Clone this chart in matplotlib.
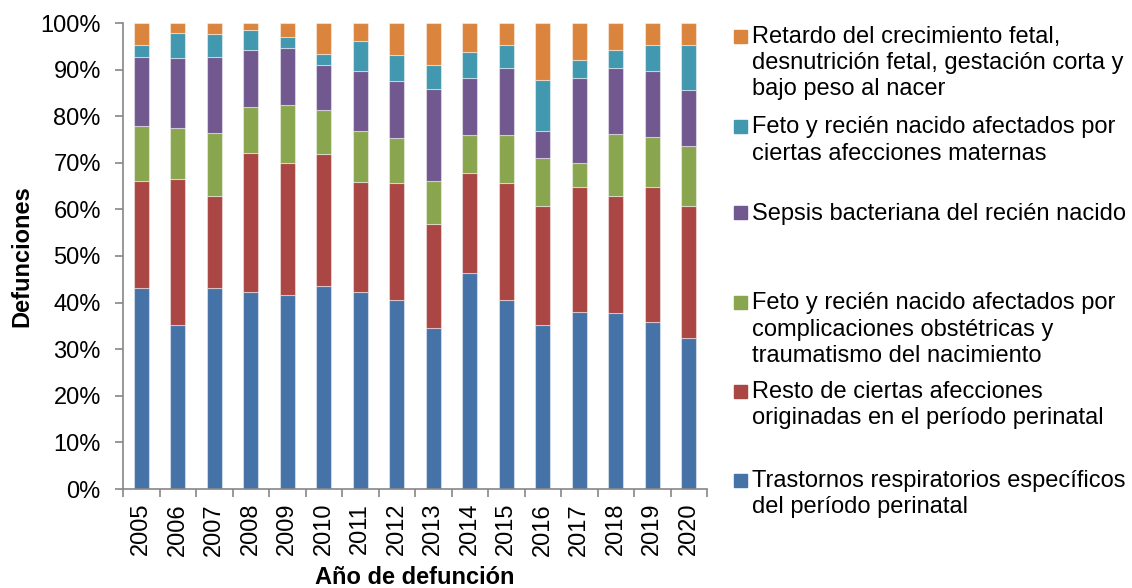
import matplotlib
matplotlib.use("Agg")
import matplotlib.pyplot as plt
import numpy as np
from matplotlib.patches import Rectangle

plt.rcParams['font.family'] = ['Liberation Sans', 'DejaVu Sans']

years = ["2005", "2006", "2007", "2008", "2009", "2010", "2011", "2012",
         "2013", "2014", "2015", "2016", "2017", "2018", "2019", "2020"]

# Cumulative tops (percent)
blue_top   = [43.1, 35.1, 43.1, 42.2, 41.6, 43.6, 42.2, 40.5, 34.5, 46.3, 40.5, 35.1, 37.9, 37.7, 35.8, 32.3]
red_top    = [66.1, 66.5, 62.9, 72.0, 69.9, 71.8, 65.8, 65.7, 56.9, 67.9, 65.6, 60.8, 64.7, 62.8, 64.9, 60.7]
green_top  = [77.9, 77.4, 76.5, 82.0, 82.3, 81.3, 76.8, 75.3, 66.0, 75.9, 76.0, 71.0, 69.9, 76.2, 75.6, 73.6]
purple_top = [92.8, 92.5, 92.8, 94.1, 94.7, 91.0, 89.6, 87.6, 85.8, 88.3, 90.3, 76.9, 88.1, 90.4, 89.8, 85.7]
teal_top   = [95.3, 97.8, 97.7, 98.4, 97.1, 93.4, 96.2, 93.1, 91.0, 93.8, 95.3, 87.8, 92.0, 94.2, 95.2, 95.2]
orange_top = [100.0] * 16

labels = [
    "Trastornos respiratorios específicos\ndel período perinatal",
    "Resto de ciertas afecciones\noriginadas en el período perinatal",
    "Feto y recién nacido afectados por\ncomplicaciones obstétricas y\ntraumatismo del nacimiento",
    "Sepsis bacteriana del recién nacido",
    "Feto y recién nacido afectados por\nciertas afecciones maternas",
    "Retardo del crecimiento fetal,\ndesnutrición fetal, gestación corta y\nbajo peso al nacer",
]
colors = ["#4572A7", "#AA4643", "#89A54E", "#71588F", "#4198AF", "#DB843D"]

tops = [blue_top, red_top, green_top, purple_top, teal_top, orange_top]

FS = 17

fig = plt.figure(figsize=(11.32, 5.88), dpi=100)
ax = fig.add_axes([123 / 1132, 1 - 489 / 588, (707 - 123) / 1132, (489 - 23) / 588])

x = np.arange(len(years))
prev = np.zeros(len(years))
for top, c in zip(tops, colors):
    top = np.array(top)
    ax.bar(x, top - prev, bottom=prev, width=0.4, color=c,
           edgecolor=(1, 1, 1, 0.45), linewidth=0.8)
    prev = top

ax.set_xlim(-0.5, len(years) - 0.5)
ax.set_ylim(0, 100)
ax.set_yticks(np.arange(0, 101, 10))
ax.set_yticklabels([f"{v}%" for v in range(0, 101, 10)], fontsize=FS)
ax.set_xticks(x)
ax.set_xticklabels(years, rotation=90, fontsize=FS)
ax.set_xticks(np.arange(-0.5, len(years), 1), minor=True)
ax.tick_params(axis='x', which='major', length=0, pad=10)
ax.tick_params(axis='x', which='minor', length=6, color="#868686", width=1.2)
ax.tick_params(axis='y', length=6, color="#868686", width=1.2, pad=10)

for s in ["top", "right"]:
    ax.spines[s].set_visible(False)
for s in ["left", "bottom"]:
    ax.spines[s].set_color("#868686")
    ax.spines[s].set_linewidth(1.2)

fig.text(415 / 1132, 1 - 578 / 588, "Año de defunción", ha="center", va="center",
         fontsize=FS, fontweight="bold")
fig.text(22 / 1132, 1 - 256 / 588, "Defunciones", ha="center", va="center",
         rotation=90, fontsize=FS, fontweight="bold")

# Legend (reversed order, marker aligned with the first line of each entry)
marker_y = [480, 391, 302.5, 213, 126.5, 36]
for lab, c, my in zip(labels, colors, marker_y):
    fig.add_artist(Rectangle((734 / 1132, 1 - (my + 6.5) / 588), 13 / 1132, 13 / 588,
                             transform=fig.transFigure, color=c))
    fig.text(752 / 1132, 1 - (my - 10) / 588, lab, ha="left", va="top",
             fontsize=FS, linespacing=1.24)

fig.savefig("out.png", dpi=100)
